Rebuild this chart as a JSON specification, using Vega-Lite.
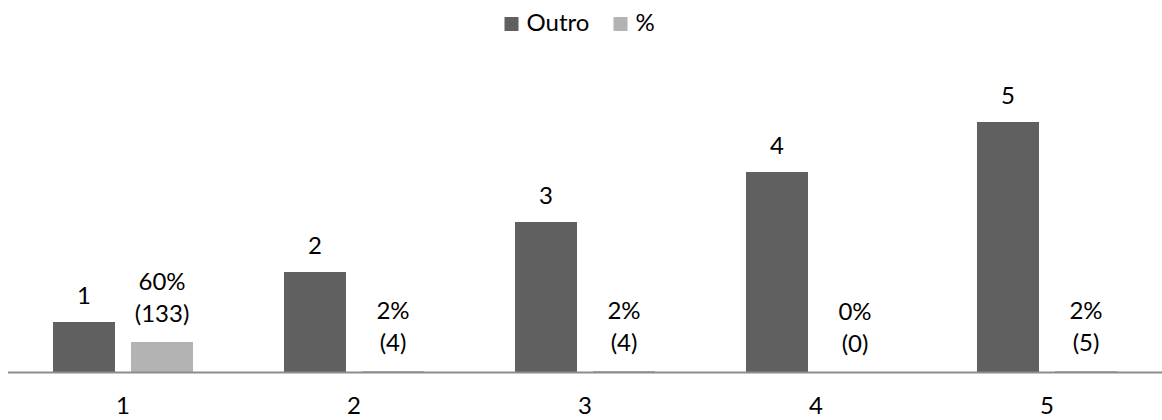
{
  "$schema": "https://vega.github.io/schema/vega-lite/v6.json",
  "width": 1155,
  "height": 300,
  "autosize": "none",
  "padding": {"left": 7.5, "top": 72, "right": 0, "bottom": 48},
  "background": "white",
  "config": {
    "view": {"stroke": null},
    "font": "Lato",
    "text": {"font": "Lato", "fontSize": 24, "color": "#000000"}
  },
  "data": {
    "values": [
      {"cat": "1", "series": "Outro", "value": 1, "line1": "1", "line2": ""},
      {"cat": "1", "series": "%", "value": 0.6, "line1": "60%", "line2": "(133)"},
      {"cat": "2", "series": "Outro", "value": 2, "line1": "2", "line2": ""},
      {"cat": "2", "series": "%", "value": 0.02, "line1": "2%", "line2": "(4)"},
      {"cat": "3", "series": "Outro", "value": 3, "line1": "3", "line2": ""},
      {"cat": "3", "series": "%", "value": 0.02, "line1": "2%", "line2": "(4)"},
      {"cat": "4", "series": "Outro", "value": 4, "line1": "4", "line2": ""},
      {"cat": "4", "series": "%", "value": 0, "line1": "0%", "line2": "(0)"},
      {"cat": "5", "series": "Outro", "value": 5, "line1": "5", "line2": ""},
      {"cat": "5", "series": "%", "value": 0.02, "line1": "2%", "line2": "(5)"}
    ]
  },
  "encoding": {
    "x": {
      "field": "cat",
      "type": "nominal",
      "sort": null,
      "scale": {"paddingInner": 0, "paddingOuter": 0},
      "axis": {
        "title": null,
        "labelAngle": 0,
        "ticks": false,
        "domainColor": "#8c8c8c",
        "domainWidth": 2,
        "labelFont": "Lato",
        "labelFontSize": 24,
        "labelColor": "#000000",
        "labelPadding": 22,
        "grid": false,
        "zindex": 1
      }
    },
    "xOffset": {
      "field": "series",
      "type": "nominal",
      "scale": {"domain": ["Outro", "%"], "paddingInner": 0.205, "paddingOuter": 0.583}
    },
    "y": {
      "field": "value",
      "type": "quantitative",
      "scale": {"domain": [0, 6], "nice": false, "zero": true},
      "axis": null
    }
  },
  "layer": [
    {
      "mark": {"type": "bar", "strokeWidth": 0},
      "encoding": {
        "color": {
          "field": "series",
          "type": "nominal",
          "scale": {"domain": ["Outro", "%"], "range": ["#606060", "#b3b3b3"]},
          "legend": {
            "orient": "none",
            "legendX": 492,
            "legendY": -60,
            "direction": "horizontal",
            "title": null,
            "symbolType": "square",
            "symbolSize": 196,
            "symbolStrokeWidth": 0,
            "labelFont": "Lato",
            "labelFontSize": 24,
            "labelColor": "#000000",
            "labelOffset": 3,
            "columnPadding": 19
          }
        }
      }
    },
    {
      "transform": [{"filter": "datum.series === 'Outro'"}],
      "mark": {"type": "text", "baseline": "middle", "dy": -25},
      "encoding": {"text": {"field": "line1", "type": "nominal"}}
    },
    {
      "transform": [{"filter": "datum.series === '%'"}],
      "mark": {"type": "text", "baseline": "middle", "dy": -59},
      "encoding": {"text": {"field": "line1", "type": "nominal"}}
    },
    {
      "transform": [{"filter": "datum.series === '%'"}],
      "mark": {"type": "text", "baseline": "middle", "dy": -27},
      "encoding": {"text": {"field": "line2", "type": "nominal"}}
    }
  ]
}
